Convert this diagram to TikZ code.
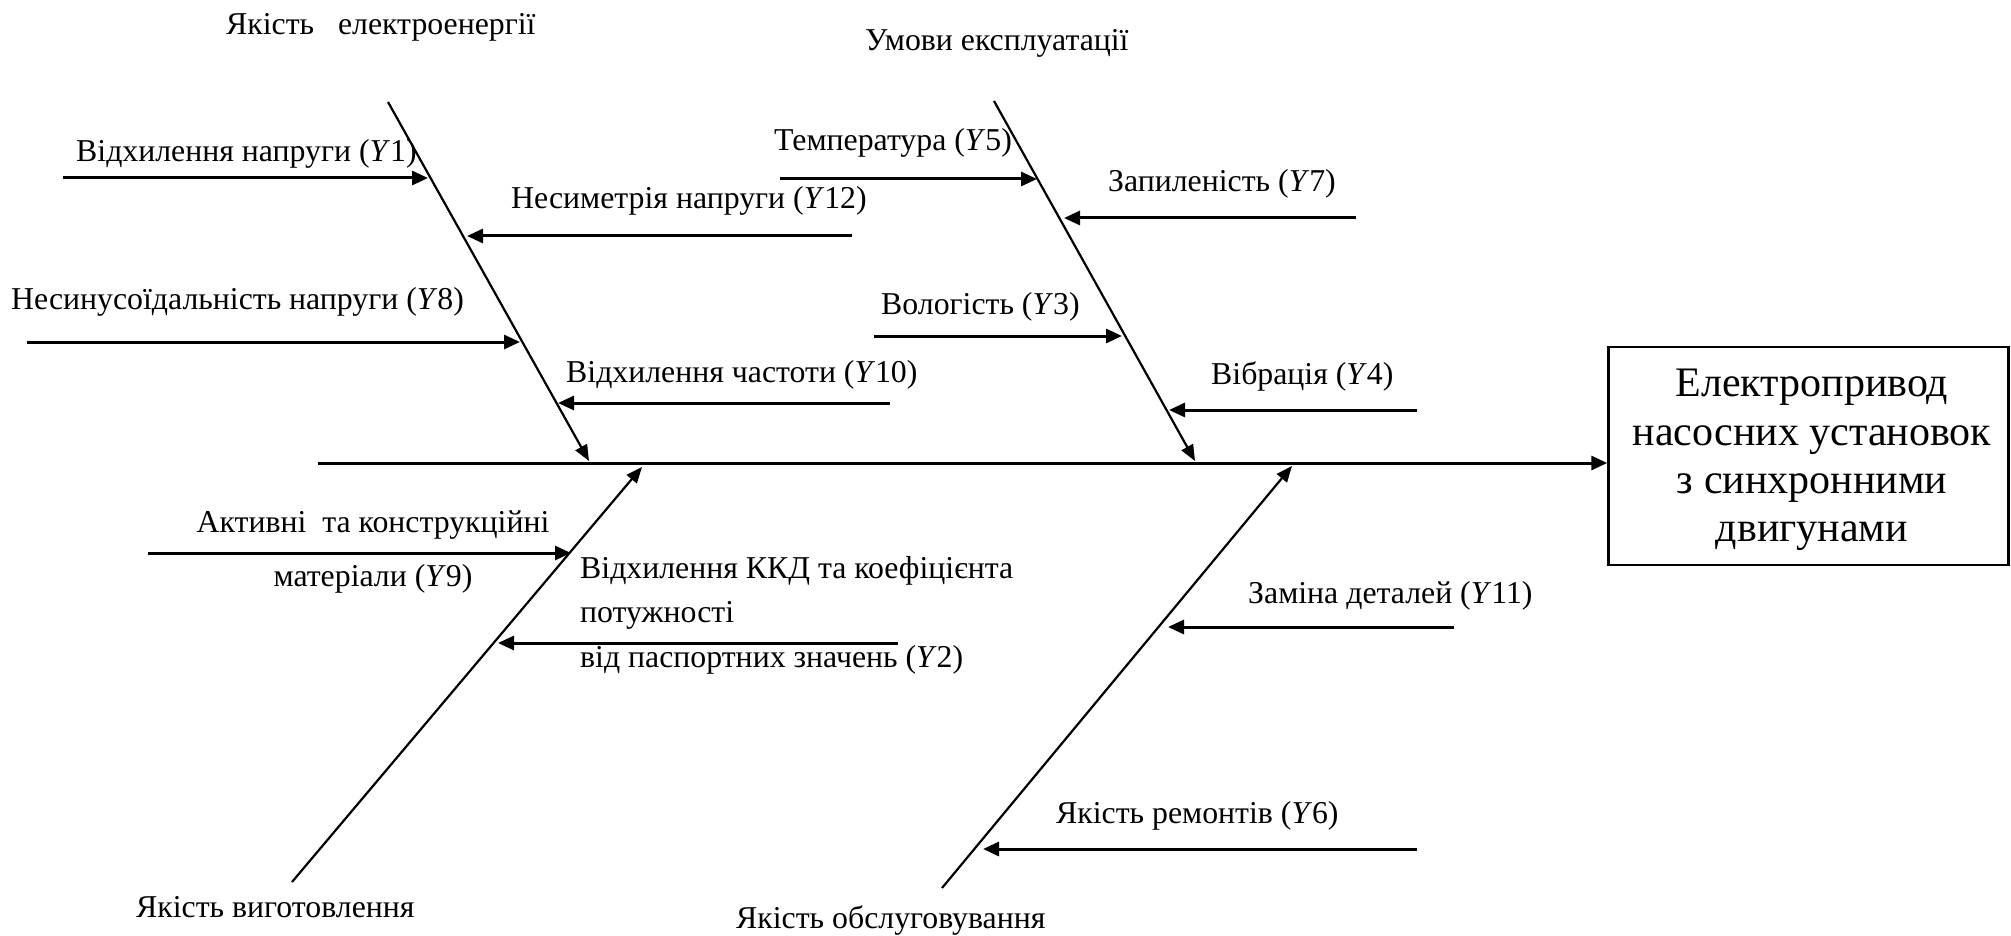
\documentclass[tikz,border=0pt]{standalone}
\usepackage{fontspec}
\setmainfont{Liberation Serif}
\usetikzlibrary{arrows.meta}
\begin{document}
\begin{tikzpicture}[x=1pt,y=-1pt,
  bone/.style={line width=2.2pt,-{Triangle[length=16pt,width=13pt]}},
  cause/.style={line width=3pt,-{Triangle[length=16pt,width=14pt]}},
  lbl/.style={anchor=base west,inner sep=0pt,font=\fontsize{31.8}{38}\selectfont},
  clbl/.style={lbl,anchor=base},
  effbox/.style={draw,line width=2.5pt,minimum width=400pt,minimum height=218pt,inner sep=0pt},
  efftxt/.style={align=center,inner sep=0pt,font=\fontsize{42}{48.3}\selectfont}]
\useasboundingbox (0,0) rectangle (2011,936);
% effect box and spine
\node[effbox] (eff) at (1808.5,456) {};
\node[efftxt] (efftext) at (1812,460) {Електропривод\\насосних установок\\з синхронними\\двигунами};
\coordinate (spineL) at (318,463);
\draw[cause] (spineL) -- (spineL -| eff.west);
% bones
\coordinate (UL1) at (388,102); \coordinate (UL2) at (589,461);
\coordinate (UR1) at (994,101); \coordinate (UR2) at (1195,461);
\coordinate (LL1) at (292,882); \coordinate (LL2) at (642,467);
\coordinate (LR1) at (942,888); \coordinate (LR2) at (1292,466);
\draw[bone] (UL1) -- (UL2);
\draw[bone] (UR1) -- (UR2);
\draw[bone] (LL1) -- (LL2);
\draw[bone] (LR1) -- (LR2);
% cause arrows
\coordinate (y1s) at (63,178);   \coordinate (y1e) at (428,178);
\coordinate (y12s) at (852,236); \coordinate (y12e) at (467,236);
\coordinate (y8s) at (27,342);   \coordinate (y8e) at (520,342);
\coordinate (y10s) at (890,403); \coordinate (y10e) at (558,403);
\coordinate (y5s) at (780,179);  \coordinate (y5e) at (1037,179);
\coordinate (y7s) at (1356,218); \coordinate (y7e) at (1064,218);
\coordinate (y3s) at (874,336);  \coordinate (y3e) at (1122,336);
\coordinate (y4s) at (1417,410); \coordinate (y4e) at (1169,410);
\coordinate (y9s) at (148,553);  \coordinate (y9e) at (571,553);
\coordinate (y2s) at (898,643);  \coordinate (y2e) at (498,643);
\coordinate (y11s) at (1454,627);\coordinate (y11e) at (1168,627);
\coordinate (y6s) at (1417,849); \coordinate (y6e) at (983,849);
\foreach \c in {y1,y12,y8,y10,y5,y7,y3,y4,y9,y2,y11,y6}
  \draw[cause] (\c s) -- (\c e);
% labels
\node[lbl] (t1) at (76,162) {Відхилення напруги (\textit{Y}1)};
\node[lbl] (t12) at (511,209) {Несиметрія напруги (\textit{Y}12)};
\node[lbl] (t8) at (11,309) {Несинусоїдальність напруги (\textit{Y}8)};
\node[lbl] (t10) at (566,382) {Відхилення частоти (\textit{Y}10)};
\node[lbl] (t5) at (774,151) {Температура (\textit{Y}5)};
\node[lbl] (t7) at (1108,192) {Запиленість (\textit{Y}7)};
\node[lbl] (t3) at (881,314) {Вологість (\textit{Y}3)};
\node[lbl] (t4) at (1211,384) {Вібрація (\textit{Y}4)};
\node[clbl] (t9a) at (373,532) {Активні\ \ та конструкційні};
\node[clbl] (t9b) at (373,586) {матеріали (\textit{Y}9)};
\node[lbl] (t2a) at (580,578) {Відхилення ККД та коефіцієнта};
\node[lbl] (t2b) at (580,622) {потужності};
\node[lbl] (t2c) at (580,667) {від паспортних значень (\textit{Y}2)};
\node[lbl] (t11) at (1248,603) {Заміна деталей (\textit{Y}11)};
\node[lbl] (t6) at (1056,823) {Якість ремонтів (\textit{Y}6)};
% category titles
\node[lbl] (c1) at (226,35) {Якість\ \ \ електроенергії};
\node[lbl] (c2) at (865,51) {Умови експлуатації};
\node[lbl] (c3) at (136,917) {Якість виготовлення};
\node[lbl] (c4) at (736,928) {Якість обслуговування};
\end{tikzpicture}
\end{document}
